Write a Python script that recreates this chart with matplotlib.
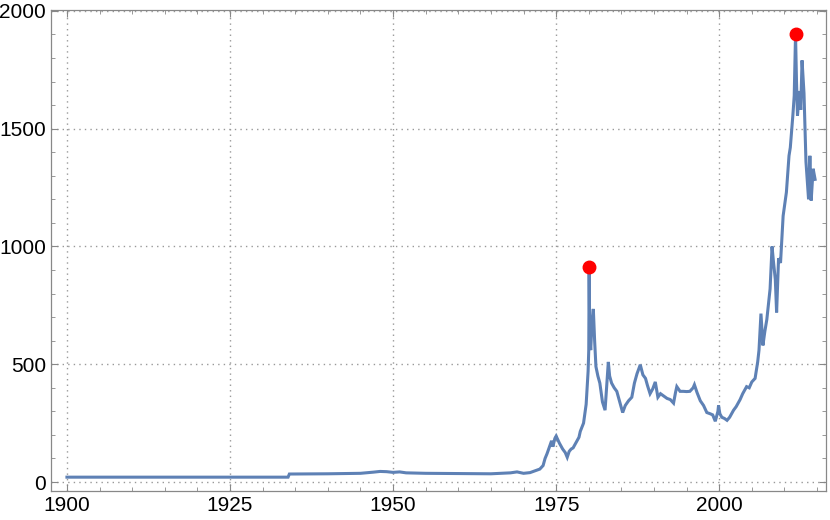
import numpy as np
import matplotlib
matplotlib.use('Agg')
import matplotlib.pyplot as plt
from matplotlib.ticker import MultipleLocator

# Price series (year, value)
years = [1900, 1933.9, 1934.1, 1940, 1945, 1947, 1948, 1949, 1950, 1951, 1952, 1955,
         1960, 1965, 1968, 1969, 1970, 1971, 1972.5, 1973.0, 1973.3, 1973.6, 1974.1,
         1974.3, 1974.5, 1974.8, 1975.0, 1975.5, 1976.0, 1976.4, 1976.7, 1977.0,
         1977.3, 1977.6, 1978.2, 1978.5, 1978.7, 1979.2, 1979.6, 1979.9, 1980.0,
         1980.06, 1980.15, 1980.3, 1980.5, 1980.7, 1980.9, 1981.1, 1981.4, 1981.7,
         1982.1, 1982.5, 1982.8, 1983.0, 1983.2, 1983.5, 1983.9, 1984.3, 1984.7,
         1985.2, 1985.6, 1986.1, 1986.6, 1987.0, 1987.4, 1987.9, 1988.3, 1988.7,
         1989.0, 1989.4, 1989.8, 1990.2, 1990.6, 1991.0, 1991.5, 1992.0, 1992.5,
         1993.0, 1993.3, 1993.5, 1994.0, 1994.5, 1995.0, 1995.5, 1996.0, 1996.2,
         1996.6, 1997.1, 1997.6, 1998.1, 1998.6, 1999.0, 1999.4, 1999.8, 1999.9,
         2000.1, 2000.4, 2000.8, 2001.2, 2001.6, 2002.2, 2002.6, 2003.2, 2003.6,
         2004.2, 2004.6, 2005.0, 2005.5, 2005.9, 2006.1, 2006.4, 2006.7, 2007.0,
         2007.3, 2007.8, 2008.1, 2008.3, 2008.6, 2008.8, 2009.1, 2009.4, 2009.8,
         2010.3, 2010.7, 2010.9, 2011.3, 2011.5, 2011.7, 2011.85, 2012.0, 2012.3,
         2012.5, 2012.7, 2013.0, 2013.3, 2013.5, 2013.7, 2013.9, 2014.1, 2014.4,
         2014.7]
prices = [20.67, 20.67, 34, 35, 37, 42, 45, 44, 41, 43, 39, 37,
          36, 35, 39, 43, 37, 40, 55, 70, 100, 120, 160,
          175, 150, 185, 195, 165, 140, 125, 105, 130,
          140, 145, 175, 190, 215, 250, 330, 470, 560,
          911, 620, 560, 680, 735, 600, 490, 450, 420,
          340, 305, 430, 510, 450, 420, 400, 385, 345,
          295, 325, 345, 360, 420, 460, 498, 455, 440,
          410, 375, 395, 425, 360, 375, 365, 355, 350,
          335, 380, 405, 385, 385, 384, 385, 400, 413,
          380, 345, 325, 295, 290, 285, 258, 300, 325,
          290, 275, 270, 262, 275, 305, 320, 350, 375,
          405, 400, 425, 440, 510, 560, 715, 580, 640,
          690, 820, 1000, 940, 860, 720, 950, 930, 1130,
          1230, 1385, 1420, 1560, 1640, 1900, 1700, 1555, 1660,
          1580, 1790, 1650, 1360, 1280, 1200, 1385, 1195, 1330,
          1285]

# the two highlighted peaks
peak_years = [1980.06, 2011.7]
peak_vals = [prices[years.index(y)] for y in peak_years]

fig = plt.figure(figsize=(8.3, 5.2), dpi=100)
ax = fig.add_axes([0.0614, 0.0558, 0.934, 0.925])

ax.plot(years, prices, color='#5E81B5', linewidth=2.2, solid_joinstyle='miter')
ax.plot(peak_years, peak_vals, 'o', color='red', markersize=9, zorder=3)

ax.set_xlim(1897.55, 2016.4)
ax.set_ylim(-38, 2004)

ax.xaxis.set_major_locator(MultipleLocator(25))
ax.xaxis.set_minor_locator(MultipleLocator(5))
ax.yaxis.set_major_locator(MultipleLocator(500))
ax.yaxis.set_minor_locator(MultipleLocator(100))

ax.grid(True, which='major', linestyle=(0, (1, 3)), color='#999999', linewidth=1)
ax.set_axisbelow(True)

for s in ax.spines.values():
    s.set_color('#888888')
    s.set_linewidth(0.9)

ax.tick_params(which='both', direction='in', top=True, right=True, color='#888888',
               labelsize=15, pad=3.5)
ax.tick_params(which='major', length=5)
ax.tick_params(which='minor', length=3)
for lbl in ax.get_xticklabels() + ax.get_yticklabels():
    lbl.set_family('Liberation Sans')

fig.savefig('out.png', dpi=100)
